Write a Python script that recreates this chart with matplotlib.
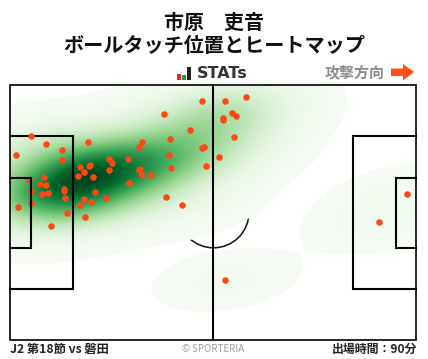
import numpy as np
import matplotlib
matplotlib.use("Agg")
import matplotlib.pyplot as plt
from matplotlib.colors import PowerNorm
from matplotlib.patches import Rectangle, Circle, Polygon

plt.rcParams['font.family'] = ['Noto Sans CJK JP', 'DejaVu Sans']

player = "市原　吏音"
subtitle = "ボールタッチ位置とヒートマップ"
direction = "攻撃方向"
footer_left = "J2 第18節 vs 磐田"
footer_mid = "© SPORTERIA"
footer_right = "出場時間：90分"

touch_x = [202.3,164.3,190.3,170.3,142.3,139.3,88.3,31.3,46.3,62.3,16.3,62.3,204.3,202.3,169.3,206.3,171.3,
           128.3,109.3,112.3,80.3,90.3,89.3,84.3,78.3,93.3,109.3,140.3,139.3,142.3,151.3,44.3,29.3,40.3,46.3,
           31.3,42.3,48.3,64.3,64.3,65.3,95.3,129.3,106.3,84.3,91.3,80.3,31.3,18.3,67.3,85.3,51.3,166.3,182.3,
           225.3,246.3,232.3,236.3,223.3,223.3,234.3,219.3,407.3,379.3,225.3]
touch_y = [101.3,114.3,130.3,139.3,142.3,147.3,142.3,136.3,144.3,150.3,155.3,160.3,147.3,148.3,155.3,166.3,168.3,
           159.3,159.3,163.3,167.3,165.3,166.3,172.3,176.3,177.3,170.3,169.3,170.3,175.3,175.3,177.3,180.3,184.3,185.3,
           191.3,194.3,193.3,189.3,191.3,198.3,192.3,183.3,198.3,199.3,202.3,205.3,203.3,207.3,213.3,217.3,226.3,197.3,205.3,
           101.3,97.3,113.3,116.3,118.3,120.3,137.3,157.3,194.3,222.3,280.3]

W, H = 428, 359
fig = plt.figure(figsize=(W/100, H/100), dpi=100, facecolor='white')
ax = fig.add_axes([0, 0, 1, 1])
ax.set_xlim(0, W); ax.set_ylim(H, 0); ax.axis('off')

L, R, T, B = 10.5, 416.5, 84.5, 340.0
MID = (L+R)/2
clip = Rectangle((L, T), R-L, B-T, transform=ax.transData)

ax.add_patch(Circle((MID, 212.3), 35.5, fill=False, ec='#111111', lw=1.1, zorder=1))

pts = np.array([touch_x, touch_y])
n = pts.shape[1]
cov = np.cov(pts) * n**(-2/6) * 1.12**2
inv = np.linalg.inv(cov)
gx, gy = np.meshgrid(np.linspace(L, R, 300), np.linspace(T, B, 200))
dens = np.zeros_like(gx)
for px, py in pts.T:
    dx, dy = gx-px, gy-py
    dens += np.exp(-0.5*(inv[0,0]*dx*dx + 2*inv[0,1]*dx*dy + inv[1,1]*dy*dy))
dens /= dens.max()
levels = np.concatenate([[0.013, 0.025, 0.038], np.linspace(0.05, 1.0, 48)])
cf = ax.contourf(gx, gy, dens, levels=levels, cmap='Greens', norm=PowerNorm(1.2, vmin=-0.01, vmax=1.0),
                 zorder=2, antialiased=True)
cf.set_edgecolor('face')
cf.set_clip_path(clip)

lw = 1.5
def box(x0, x1, y0, y1, z):
    ax.plot([x0, x1, x1, x0], [y0, y0, y1, y1], color='black', lw=lw, zorder=z, solid_joinstyle='miter')
box(L, 73.5, 136, 289, 3)
box(L, 31, 178, 247.5, 6)
box(R, 353, 136, 289, 3)
box(R, 396, 178, 247.5, 6)
ax.plot([MID, MID], [T, B], color='black', lw=lw, zorder=3)
ax.add_patch(Rectangle((L, T), R-L, B-T, fill=False, ec='black', lw=1.2, zorder=4))

ax.scatter(touch_x, touch_y, s=22, color='#ff4713', linewidths=0, zorder=5)

ax.text(214, 22, player, ha='center', va='center', fontsize=14.4, fontweight='bold', color='#111111')
ax.text(214, 46, subtitle, ha='center', va='center', fontsize=14.5, fontweight='bold', color='#111111')
ax.add_patch(Rectangle((177, 74), 4, 6, fc='#e8262a', ec='none'))
ax.add_patch(Rectangle((182, 75), 4, 5, fc='#1e9e4a', ec='none'))
ax.add_patch(Rectangle((187, 67), 4, 13, fc='#222222', ec='none'))
ax.text(196.5, 74, "STATs", ha='left', va='center', fontsize=11.5, fontweight='bold', color='#333333',
        family='DejaVu Sans')
ax.text(355, 72, direction, ha='center', va='center', fontsize=10.8, fontweight='bold', color='#8c8c8c')
ax.add_patch(Polygon([(391, 68.5), (403, 68.5), (403, 64), (414, 72), (403, 80.5), (403, 76), (391, 76)],
                     fc='#ff4f14', ec='none'))

ax.text(10, 349.5, footer_left, ha='left', va='center', fontsize=8.8, fontweight='bold', color='#222222')
ax.text(213, 348.5, footer_mid, ha='center', va='center', fontsize=7, color='#a0a0a0')
ax.text(417, 349.5, footer_right, ha='right', va='center', fontsize=8.6, fontweight='bold', color='#222222')

fig.savefig('out.png', dpi=100, facecolor='white')
